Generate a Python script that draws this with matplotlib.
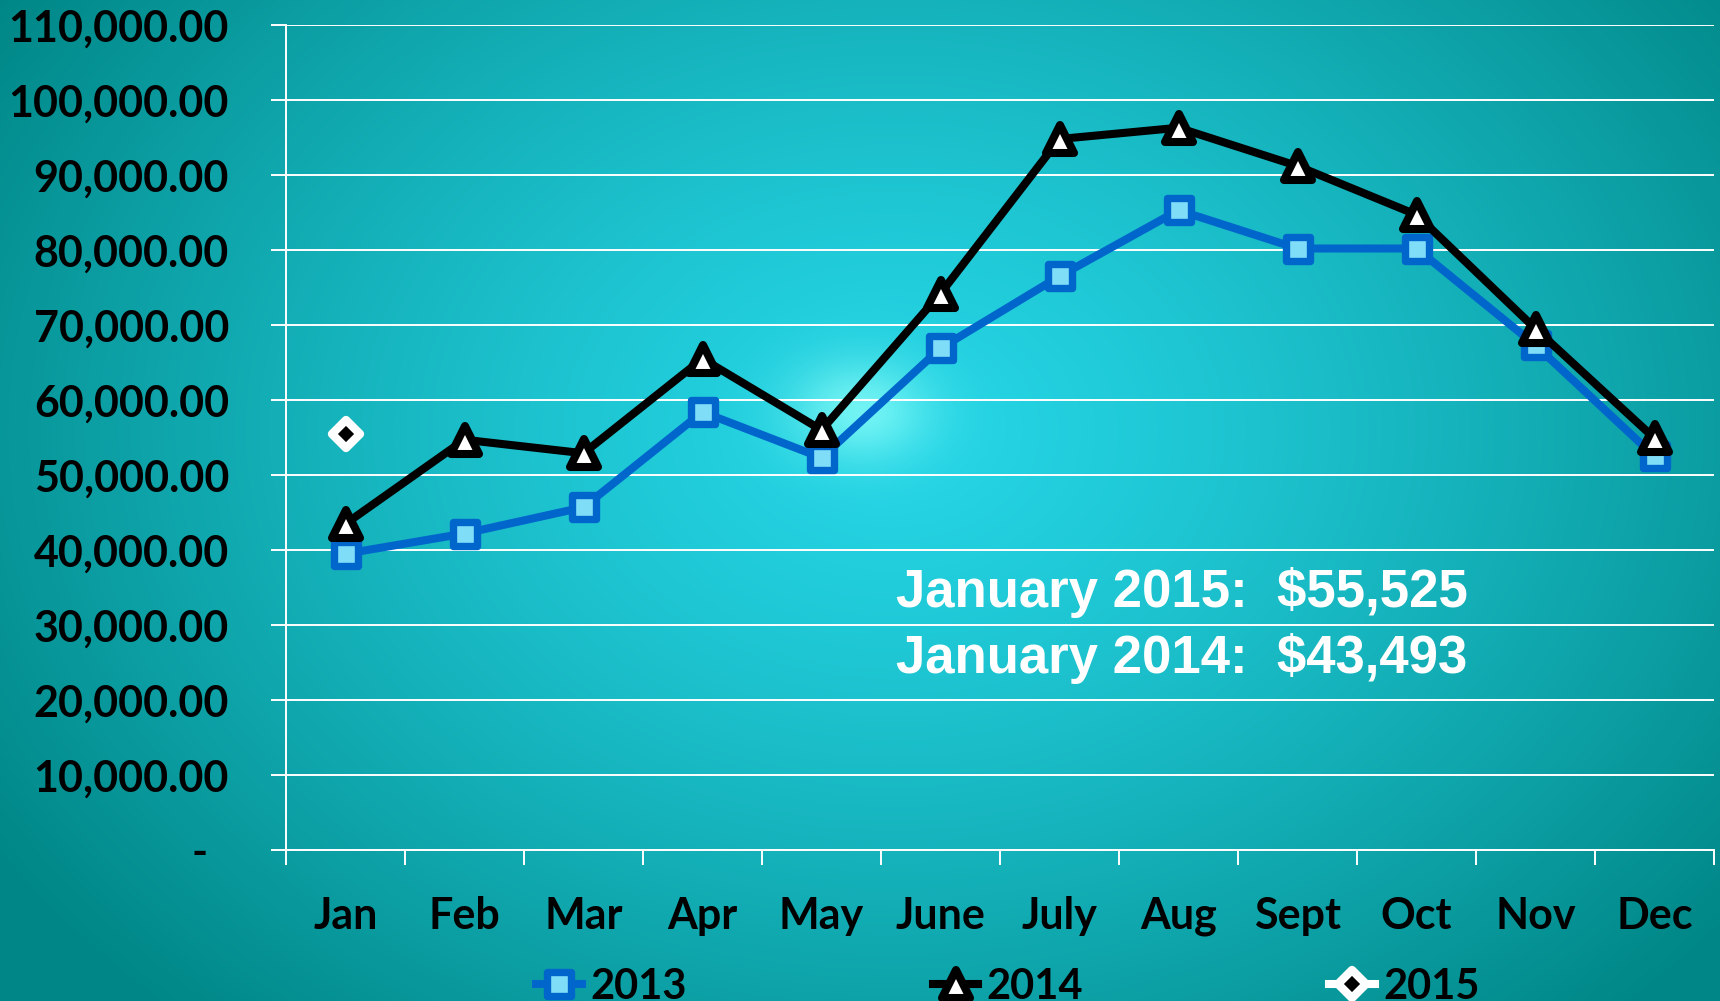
import numpy as np
import matplotlib.pyplot as plt
from matplotlib.markers import MarkerStyle

months = ['Jan', 'Feb', 'Mar', 'Apr', 'May', 'June', 'July', 'Aug', 'Sept', 'Oct', 'Nov', 'Dec']
sales_2013 = [39500, 42200, 45700, 58400, 52300, 66900, 76500, 85300, 80200, 80200, 67300, 52500]
sales_2014 = [43493, 54700, 52900, 65500, 56000, 74200, 94800, 96300, 91200, 84700, 69500, 54900]
sales_2015 = [55525]
yticks = np.arange(0, 110001, 10000)
note_lines = ['January 2015:  $55,525', 'January 2014:  $43,493']

W, H = 1720, 1001
fig = plt.figure(figsize=(W / 100, H / 100), dpi=100)

# radial teal background
bg = fig.add_axes([0, 0, 1, 1], zorder=-5)
yy, xx = np.mgrid[0:1:400j, 0:1:600j]
d = np.sqrt(((xx - 0.52) / 0.62) ** 2 + ((yy - 0.43) / 0.8) ** 2)
d = np.clip(d, 0, 1) ** 1.3
c_in = np.array([0x26, 0xd6, 0xe6]) / 255
c_out = np.array([0x00, 0x86, 0x86]) / 255
img = c_in[None, None, :] * (1 - d[..., None]) + c_out[None, None, :] * d[..., None]
spot = np.exp(-(((xx - 0.50) / 0.04) ** 2 + ((yy - 0.41) / 0.05) ** 2))
img = img + spot[..., None] * (np.array([0.3, 0.12, 0.06]))
bg.imshow(np.clip(img, 0, 1), aspect='auto', extent=[0, 1, 0, 1], origin='upper')
bg.axis('off')

ax = fig.add_axes([286 / W, 1 - 850 / H, (1714 - 286) / W, (850 - 25) / H])
ax.set_facecolor('none')
x = np.arange(len(months))

ax.plot(x, sales_2013, color='#0066cc', lw=5.8, zorder=3,
        marker=MarkerStyle('s', joinstyle='round'), ms=17.5, mew=5.3,
        mfc='#80ddf8', mec='#0066cc', label='2013')
ax.plot(x, sales_2014, color='black', lw=5.8, zorder=4,
        marker=MarkerStyle('^', joinstyle='round'), ms=20, mew=5.8,
        mfc='white', mec='black', label='2014')
ax.plot(x[:1], sales_2015, color='white', lw=5.8, zorder=5, ls='-',
        marker=MarkerStyle('D', joinstyle='round'), ms=14, mew=6,
        mfc='black', mec='white', label='2015')

ax.set_xlim(-0.5, 11.5)
ax.set_ylim(0, 110000)
ax.set_yticks(yticks)
ax.set_yticklabels(['-  '] + [f'{v:,.2f}' for v in yticks[1:]])
ax.set_xticks(x)
ax.set_xticklabels(months)
ax.set_xticks(np.arange(-0.5, 12, 1), minor=True)
ax.tick_params(axis='x', which='major', length=0, pad=33)
ax.tick_params(axis='x', which='minor', length=11, width=1.4, color='white')
ax.tick_params(axis='y', length=11, width=1.4, color='white', pad=30)
for lab in ax.get_xticklabels() + ax.get_yticklabels():
    lab.set_fontfamily('Lato')
    lab.set_fontweight('bold')
    lab.set_fontsize(31)
ax.grid(axis='y', color='white', lw=1.4)
for s in ['top', 'right']:
    ax.spines[s].set_visible(False)
ax.spines['left'].set_color('white')
ax.spines['left'].set_linewidth(1.4)
ax.spines['bottom'].set_color('white')
ax.spines['bottom'].set_linewidth(1.4)

ax.text(0.427, 0.272, note_lines[0] + '\n' + note_lines[1], transform=ax.transAxes,
        color='white', fontsize=38, fontweight='bold', family='Liberation Sans',
        ha='left', va='center', linespacing=1.38)

leg = fig.legend(loc='center', bbox_to_anchor=(0.586, 0.014), ncol=3, frameon=False,
                 handlelength=1.1, handletextpad=0.2, columnspacing=5.9,
                 prop={'family': 'Lato', 'weight': 'bold', 'size': 30})

fig.savefig('out.png', dpi=100)
